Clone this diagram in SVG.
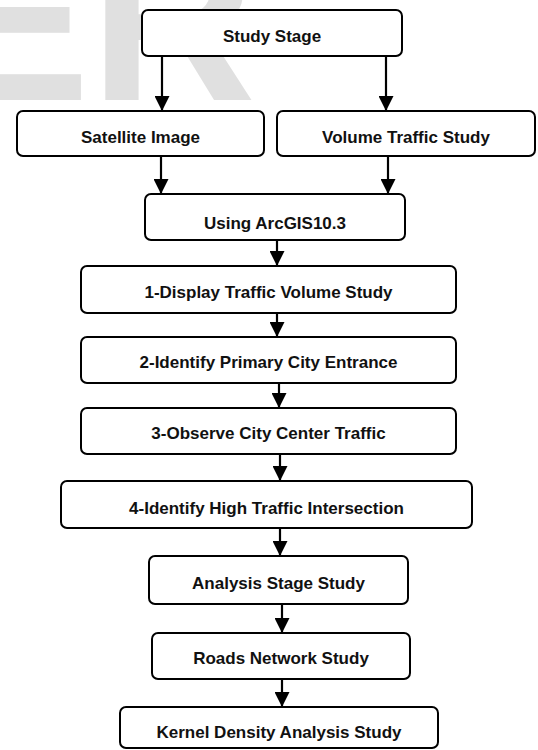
<svg xmlns="http://www.w3.org/2000/svg" width="538" height="750" viewBox="0 0 538 750">
<style>
.box{fill:#fff;stroke:#000;stroke-width:2}
.lbl{font-family:"Liberation Sans",Arial,Helvetica,sans-serif;font-weight:bold;font-size:17px;text-anchor:middle;fill:#111}
.wm{font-family:"Liberation Sans",Arial,sans-serif;font-weight:bold;font-size:230px;fill:#e0e0e0;text-anchor:end}
.conn line{stroke:#000;stroke-width:2.2;marker-end:url(#ah)}
</style>
<defs>
<marker id="ah" markerUnits="userSpaceOnUse" markerWidth="15" markerHeight="15" refX="15" refY="7.5" orient="auto">
<path d="M0,0 L15,7.5 L0,15 Z" fill="#000"/>
</marker>
</defs>
<rect width="538" height="750" fill="#fff"/>
<text class="wm" x="256" y="100">ER</text>
<g id="connectors" class="conn">
<line x1="162" y1="56" x2="162" y2="111"/>
<line x1="386" y1="56" x2="386" y2="111"/>
<line x1="161" y1="156" x2="161" y2="194"/>
<line x1="388" y1="156" x2="388" y2="194"/>
<line x1="277" y1="240" x2="277" y2="266"/>
<line x1="277" y1="313" x2="277" y2="337"/>
<line x1="279" y1="383" x2="279" y2="408"/>
<line x1="280" y1="454" x2="280" y2="481"/>
<line x1="280" y1="528" x2="280" y2="556"/>
<line x1="282" y1="604" x2="282" y2="633"/>
<line x1="282" y1="679" x2="282" y2="707"/>
</g>
<g id="study-stage"><rect class="box" x="142" y="10" width="260" height="46" rx="6"/><text class="lbl" x="272" y="41.5">Study Stage</text></g>
<g id="satellite-image"><rect class="box" x="17" y="111" width="247" height="45" rx="6"/><text class="lbl" x="140.5" y="143">Satellite Image</text></g>
<g id="volume-traffic"><rect class="box" x="277" y="111" width="258" height="45" rx="6"/><text class="lbl" x="406" y="143">Volume Traffic Study</text></g>
<g id="arcgis"><rect class="box" x="145" y="194" width="260" height="46" rx="6"/><text class="lbl" x="275" y="228.5">Using ArcGIS10.3</text></g>
<g id="step1"><rect class="box" x="81" y="266" width="375" height="47" rx="6"/><text class="lbl" x="268.5" y="298">1-Display Traffic Volume Study</text></g>
<g id="step2"><rect class="box" x="81" y="337" width="375" height="46" rx="6"/><text class="lbl" x="268.5" y="367.5">2-Identify Primary City Entrance</text></g>
<g id="step3"><rect class="box" x="81" y="408" width="375" height="46" rx="6"/><text class="lbl" x="268.5" y="439">3-Observe City Center Traffic</text></g>
<g id="step4"><rect class="box" x="61" y="481" width="411" height="47" rx="6"/><text class="lbl" x="266.5" y="513.5">4-Identify High Traffic Intersection</text></g>
<g id="analysis"><rect class="box" x="149" y="556" width="259" height="48" rx="6"/><text class="lbl" x="278.5" y="589">Analysis Stage Study</text></g>
<g id="roads"><rect class="box" x="152" y="633" width="258" height="46" rx="6"/><text class="lbl" x="281" y="664">Roads Network Study</text></g>
<g id="kernel"><rect class="box" x="120" y="707" width="318" height="41" rx="6"/><text class="lbl" x="279" y="737.5">Kernel Density Analysis Study</text></g>
</svg>
